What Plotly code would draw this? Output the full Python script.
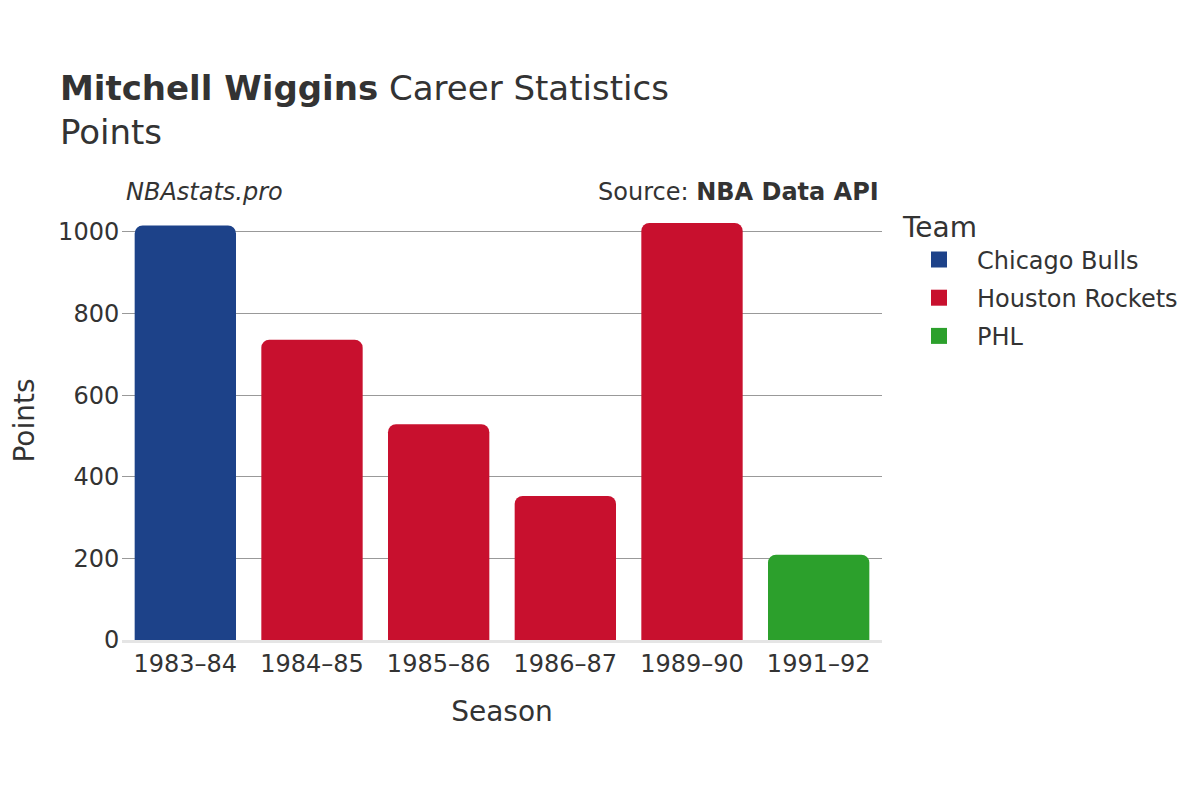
import plotly.graph_objects as go

seasons = ["1983–84", "1984–85", "1985–86", "1986–87", "1989–90", "1991–92"]
teams = ["Chicago Bulls", "Houston Rockets", "Houston Rockets", "Houston Rockets",
         "Houston Rockets", "PHL"]
points = [1016, 736, 529, 353, 1022, 209]

team_order = ["Chicago Bulls", "Houston Rockets", "PHL"]
team_colors = {
    "Chicago Bulls": "#1d4289",
    "Houston Rockets": "#c8102e",
    "PHL": "#2ca02c",
}

fig = go.Figure()

for team in team_order:
    xs = [s for s, t in zip(seasons, teams) if t == team]
    ys = [p for p, t in zip(points, teams) if t == team]
    fig.add_trace(go.Bar(x=xs, y=ys, name=team, marker_color=team_colors[team],
                         marker_line_width=0, showlegend=False, legendgroup=team))
    # bigger legend swatch
    fig.add_trace(go.Scatter(x=[None], y=[None], mode="markers", name=team,
                             legendgroup=team,
                             marker=dict(symbol="square", size=28,
                                         color=team_colors[team])))

fig.update_layout(
    width=1200, height=800,
    font=dict(family="DejaVu Sans", size=24, color="#333"),
    paper_bgcolor="white", plot_bgcolor="white",
    barcornerradius=8,
    bargap=0.2,
    margin=dict(l=114, r=326, t=193, b=168),
    title=dict(
        text="<b>Mitchell Wiggins</b> Career Statistics<br>Points",
        x=0.0433, xanchor="left", y=0.885, yanchor="top",
        font=dict(size=34, color="#333"),
    ),
    legend=dict(
        title=dict(text="Team", font=dict(size=28)),
        x=1.025, xanchor="left", y=1.0, yanchor="top",
        font=dict(size=24),
        itemwidth=66,
        tracegroupgap=4,
    ),
    xaxis=dict(
        title=dict(text="Season", font=dict(size=28), standoff=25),
        categoryorder="array", categoryarray=seasons,
        showline=True, linecolor="#e5e5e5", linewidth=3,
        tickfont=dict(size=24),
    ),
    yaxis=dict(
        title=dict(text="Points", font=dict(size=28), standoff=28),
        automargin=False,
        showgrid=True, gridcolor="#999", gridwidth=1,
        zeroline=False,
        ticks="outside", ticklen=4, tickcolor="rgba(0,0,0,0)",
        ticklabelstandoff=-7,
        tickfont=dict(size=24),
        dtick=200,
    ),
    annotations=[
        dict(text="<i>NBAstats.pro</i>", xref="paper", yref="paper",
             x=0.003, y=1.0205, xanchor="left", yanchor="middle",
             showarrow=False, font=dict(size=24, color="#333")),
        dict(text="Source: <b>NBA Data API</b>", xref="paper", yref="paper",
             x=0.999, y=1.0205, xanchor="right", yanchor="middle",
             showarrow=False, font=dict(size=24, color="#333")),
    ],
)

fig.write_html("out.html")
